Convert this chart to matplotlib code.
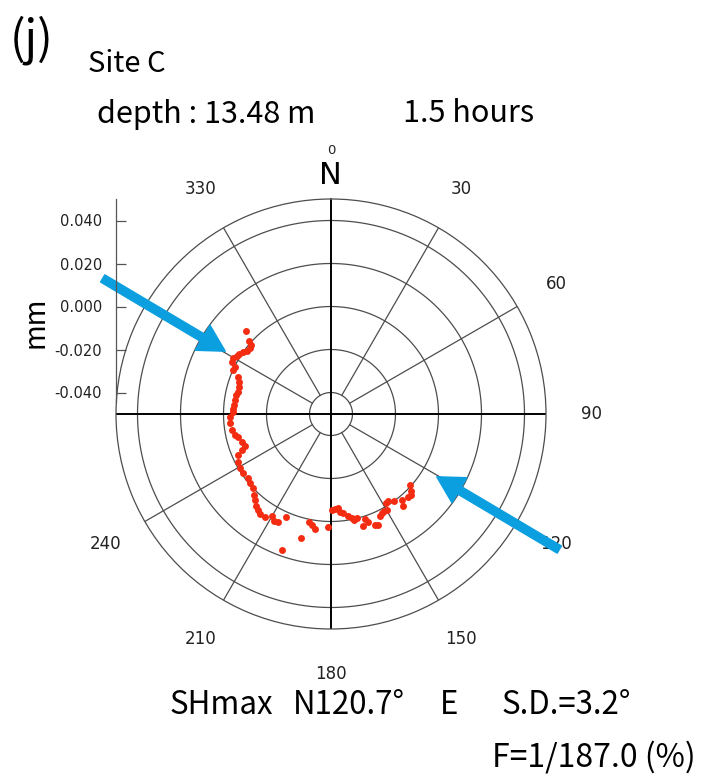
import numpy as np
import matplotlib
matplotlib.use("Agg")
import matplotlib.pyplot as plt

# azimuth (deg, clockwise from N) and displacement (mm) of each reading
azimuth = [314.3, 311.9, 310.7, 309.2, 307.0, 305.1, 303.0, 301.6, 299.7, 297.9,
           296.2, 294.2, 291.8, 289.4, 286.6, 283.5, 281.3, 278.3, 275.3, 272.9,
           271.3, 268.5, 264.7, 260.8, 257.7, 256.2, 252.8, 249.8, 248.0, 246.1,
           242.8, 239.2, 235.9, 232.1, 229.5, 226.6, 223.4, 221.5, 219.3, 217.1,
           215.3, 212.7, 210.0, 208.0, 205.9, 203.8, 193.6, 199.7, 191.5, 189.7,
           187.9, 181.5, 179.6, 177.6, 175.6, 174.7, 172.9, 170.7, 168.8, 167.6,
           166.1, 163.9, 162.1, 160.9, 158.4, 156.9, 154.4, 152.7, 151.1, 149.9,
           148.5, 146.5, 143.9, 140.3, 142.1, 131.9, 133.8, 135.4, 136.9]
disp = [0.0054, 0.0011, -0.0008, -0.0016, -0.0013, -0.0001, 0.0010, 0.0015, 0.0023, 0.0020,
        -0.0002, -0.0002, -0.0033, -0.0047, -0.0055, -0.0057, -0.0048, -0.0049, -0.0047, -0.0045,
        -0.0046, -0.0030, -0.0028, -0.0032, -0.0043, -0.0056, -0.0065, -0.0074, -0.0052, -0.0028,
        -0.0015, -0.0007, -0.0008, -0.0013, -0.0004, -0.0002, 0.0019, 0.0034, 0.0053, 0.0060,
        0.0071, 0.0068, 0.0046, 0.0062, 0.0060, 0.0022, 0.0095, 0.0174, 0.0013, 0.0026,
        0.0040, 0.0024, -0.0054, -0.0056, -0.0060, -0.0044, -0.0035, -0.0019, -0.0006, 0.0005,
        -0.0004, 0.0041, 0.0015, 0.0030, 0.0055, 0.0061, 0.0027, 0.0020, 0.0013, 0.0016,
        -0.0013, -0.0017, -0.0001, 0.0020, 0.0042, -0.0006, 0.0015, 0.0029, 0.0027]

rings = [-0.04, -0.02, 0.0, 0.02, 0.04]
r_ticks = [-0.04, -0.02, 0.0, 0.02, 0.04]
spokes = [30, 60, 120, 150, 210, 240, 300, 330]
angle_labels = [30, 60, 90, 120, 150, 180, 210, 240, 330]
shmax = 120.7

W, H = 707, 782
fig = plt.figure(figsize=(W / 100, H / 100), dpi=100)
jp = ['Noto Sans CJK JP', 'DejaVu Sans']

# polar plot: centre (331, 414) px, outer radius 215 px
ax = fig.add_axes([116 / W, 1 - 629 / H, 430 / W, 430 / H], projection='polar')
ax.set_theta_zero_location('N')
ax.set_theta_direction(-1)
ax.set_ylim(-0.05, 0.05)
ax.grid(False)
ax.set_xticks([])
ax.set_yticks([])
ax.spines['polar'].set_color('#4d4d4d')
ax.spines['polar'].set_linewidth(0.9)

th = np.linspace(0, 2 * np.pi, 400)
for rr in rings:
    ax.plot(th, np.full_like(th, rr), color='#4d4d4d', lw=0.9)
for a in spokes:
    ax.plot([np.deg2rad(a)] * 2, [-0.04, 0.05], color='#4d4d4d', lw=0.9)
for a in [0, 90, 180, 270]:
    ax.plot([np.deg2rad(a)] * 2, [-0.05, 0.05], color='black', lw=1.4)

ax.plot(np.deg2rad(azimuth), disp, 'o', ms=5, color='#f42c12', mec='none', zorder=5, clip_on=False)

for a in angle_labels:
    ax.text(np.deg2rad(a), 0.071, str(a), ha='center', va='center', fontsize=12,
            family='DejaVu Sans', color='#222222', clip_on=False)
ax.text(0, 0.0725, '0', ha='center', va='center', fontsize=9.5, family='DejaVu Sans',
        color='#222222', clip_on=False)

for a in [shmax + 180, shmax]:
    ax.annotate('', xy=(np.deg2rad(a), 0.0072), xytext=(np.deg2rad(a), 0.0735),
                xycoords='data', textcoords='data', annotation_clip=False,
                arrowprops=dict(width=6, headwidth=21, headlength=19, color='#0b9fe0',
                                shrink=0), zorder=10)

# radial scale on the left
rax = fig.add_axes([116 / W, 1 - 414 / H, 0.0001, 215 / H])
rax.set_ylim(-0.05, 0.05)
rax.patch.set_visible(False)
for s in ['top', 'right', 'bottom']:
    rax.spines[s].set_visible(False)
rax.spines['left'].set_color('#555555')
rax.spines['left'].set_linewidth(0.9)
rax.spines['left'].set_bounds(-0.0445, 0.05)
rax.set_xticks([])
rax.set_yticks(r_ticks)
rax.set_yticklabels(['%.3f' % v for v in r_ticks], fontsize=10.5, color='#222222')
rax.tick_params(axis='y', direction='in', length=7, width=0.9, color='#555555', pad=10)

fig.text(36 / W, 1 - 322 / H, 'mm', rotation=90, ha='center', va='center', fontsize=20, family=jp)
fig.text(330 / W, 1 - 175 / H, 'N', ha='center', va='center', fontsize=22, family='DejaVu Sans')

fig.text(10 / W, 1 - 40 / H, '(j)', ha='left', va='center', fontsize=33, family=jp)
fig.text(88 / W, 1 - 64 / H, 'Site C', ha='left', va='center', fontsize=21, family=jp)
fig.text(97 / W, 1 - 114 / H, 'depth : 13.48 m', ha='left', va='center', fontsize=22, family=jp)
fig.text(403 / W, 1 - 114 / H, '1.5 hours', ha='left', va='center', fontsize=22, family=jp)

yb = 1 - 705 / H
fig.text(170 / W, yb, 'SHmax', ha='left', va='center', fontsize=22.5, family=jp)
fig.text(293 / W, yb, 'N120.7°', ha='left', va='center', fontsize=22.5, family=jp)
fig.text(440 / W, yb, 'E', ha='left', va='center', fontsize=22.5, family=jp)
fig.text(502 / W, yb, 'S.D.=3.2°', ha='left', va='center', fontsize=22.5, family=jp)
fig.text(492 / W, 1 - 757 / H, 'F=1/187.0 (%)', ha='left', va='center', fontsize=23, family=jp)

fig.savefig('out.png', dpi=100, facecolor='white')
